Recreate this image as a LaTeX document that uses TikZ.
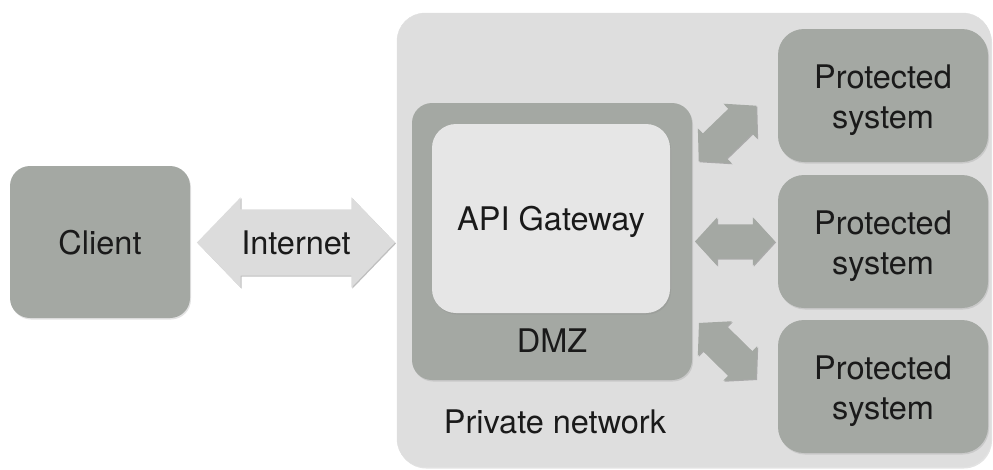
\documentclass[tikz,border=0pt]{standalone}
\usepackage{fontspec}
\setmainfont{TeX Gyre Heros}
\usetikzlibrary{shapes.arrows,shadows}
\definecolor{boxgray}{HTML}{A4A8A3}
\definecolor{pnbg}{HTML}{DEDEDE}
\definecolor{apibg}{HTML}{E6E6E6}
\definecolor{netbg}{HTML}{DCDCDC}
\definecolor{txt}{HTML}{1A1A1A}
\begin{document}
\begin{tikzpicture}[x=1pt,y=-1pt,
  every node/.style={text=txt},
  bigfont/.style={font=\fontsize{32.5}{40}\selectfont},
  box/.style={rectangle, rounded corners=22pt, fill=boxgray, inner sep=0pt, align=center, bigfont,
    drop shadow={shadow xshift=1pt, shadow yshift=-1.5pt, opacity=0.22}},
  psbox/.style={box, rounded corners=26pt, minimum width=210pt, minimum height=133pt},
  conn/.style={double arrow, fill=boxgray, inner xsep=0pt, inner ysep=17pt, minimum height=80pt, minimum width=48pt,
    double arrow head extend=7pt, double arrow tip angle=95,
    drop shadow={shadow xshift=1pt, shadow yshift=-1pt, opacity=0.55}},
  netarrow/.style={double arrow, fill=netbg, inner xsep=0pt, inner ysep=21pt, text height=24pt, text depth=0pt,
    minimum height=198pt, minimum width=90pt,
    double arrow head extend=12pt, double arrow tip angle=92, bigfont,
    drop shadow={shadow xshift=1pt, shadow yshift=-1pt, opacity=0.5}},
  lbl/.style={bigfont, inner sep=0pt, text depth=0pt, align=center}
]
\useasboundingbox (0,0) rectangle (993,469);
% private network
\node[box, fill=pnbg, draw=black!12, rounded corners=28pt, minimum width=594pt, minimum height=454pt] (pn) at (694,240) {};
\node[lbl] (pnlabel) at (555,422) {Private network};
% DMZ
\node[box, rounded corners=20pt, minimum width=280pt, minimum height=277pt] (dmz) at (552,241.5) {};
\node[box, fill=apibg, rounded corners=24pt, minimum width=238pt, minimum height=189pt, text depth=0pt] (api) at (551,218.5) {API Gateway};
\node[lbl] (dmzlabel) at (552,341) {DMZ};
% client
\node[box, rounded corners=20pt, minimum width=180pt, minimum height=152pt, text depth=0pt] (client) at (100,242) {Client};
% protected systems
\node[psbox] (ps1) at (883,95.5) {};
\node[psbox] (ps2) at (883,241.5) {};
\node[psbox] (ps3) at (883,386.5) {};
\node[lbl] (ps1t) at ([yshift=-1pt]ps1.center) {Protected\\system};
\node[lbl] (ps2t) at ([yshift=-1pt]ps2.center) {Protected\\system};
\node[lbl] (ps3t) at ([yshift=-1pt]ps3.center) {Protected\\system};
% connectors
\path (client.east) -- (pn.west) node[pos=0.512, netarrow, yshift=-1.5pt] (inet) {Internet};
\path (dmz.east) -- (ps2.west) node[midway, conn] (c2) {};
\coordinate (u1) at (698,162);
\coordinate (u2) at (757,105);
\path (u1) -- (u2) node[midway, sloped, conn] (c1) {};
\coordinate (d1) at (698,322);
\coordinate (d2) at (757,380);
\path (d1) -- (d2) node[midway, sloped, conn] (c3) {};
\end{tikzpicture}
\end{document}
